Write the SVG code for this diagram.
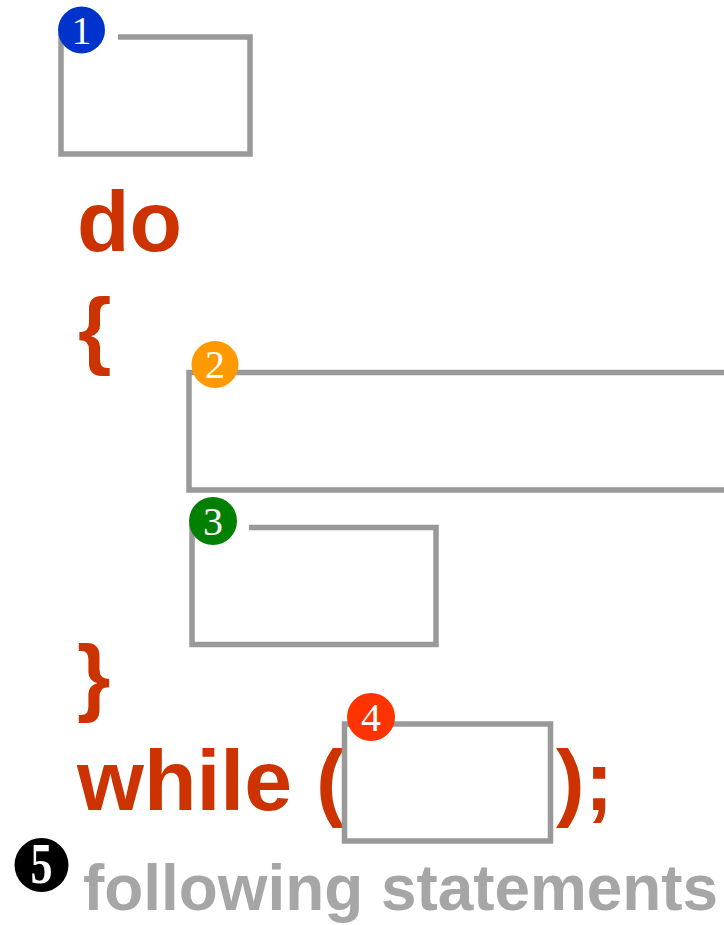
<svg xmlns="http://www.w3.org/2000/svg" width="724" height="925" viewBox="0 0 724 925">
<style>
.box{fill:none;stroke:#999999;stroke-width:5.5;stroke-linecap:butt;stroke-linejoin:miter}
.kw{font-family:"Liberation Sans",Arial,sans-serif;font-weight:bold;font-size:86px;fill:#cc3300}
.num{font-family:"Liberation Serif","Times New Roman",serif;font-size:40px;fill:#ffffff;text-anchor:middle}
.foll{font-family:"Liberation Sans",Arial,sans-serif;font-weight:bold;font-size:64px;fill:#a6a6a6}
</style>
<rect width="724" height="925" fill="#ffffff"/>
<g id="code">
<text class="kw" x="77" y="251">do</text>
<text class="kw" x="78" y="358">{</text>
<text class="kw" x="77" y="705">}</text>
<text class="kw" x="77" y="810">while (</text>
<text class="kw" x="556" y="810">);</text>
</g>
<g id="node1">
<path class="box" d="M118,37 H250 V154 H61 V34"/>
<circle cx="81.5" cy="30" r="23.5" fill="#0033cc"/>
<text class="num" x="81.5" y="43.5">1</text>
</g>
<g id="node2">
<path class="box" d="M740,372.5 H189 V490 H740"/>
<circle cx="215" cy="364.5" r="23.5" fill="#ff9900"/>
<text class="num" x="215" y="378">2</text>
</g>
<g id="node3">
<path class="box" d="M249,527.5 H436 V644.5 H192 V524"/>
<circle cx="213" cy="521" r="24" fill="#008000"/>
<text class="num" x="213" y="535">3</text>
</g>
<g id="node4">
<rect class="box" x="344.5" y="724" width="206" height="117"/>
<circle cx="371" cy="717" r="24" fill="#ff3300"/>
<text class="num" x="371" y="731">4</text>
</g>
<g id="node5">
<circle cx="41.5" cy="865" r="27" fill="#000000"/>
<text class="num" x="41.5" y="883" style="font-size:58px;font-weight:bold" textLength="22" lengthAdjust="spacingAndGlyphs">5</text>
<text class="foll" x="83" y="910" textLength="635" lengthAdjust="spacingAndGlyphs">following statements</text>
</g>
<g id="connectors"/>
</svg>
